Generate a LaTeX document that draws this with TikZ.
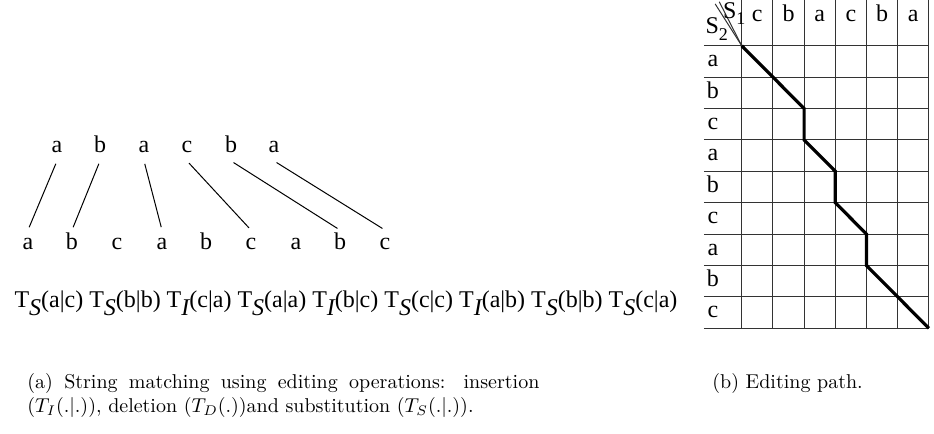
\documentclass[tikz,border=0pt]{standalone}
\usepackage{fontspec}
\newfontfamily\timesfont{Liberation Serif}
\usetikzlibrary{
  calc,
  positioning
}
\newcommand{\edop}[3]{T\raisebox{-0.7ex}{\itshape #1}(#2|#3)}
\newcommand{\seqname}[2]{S\raisebox{-0.6ex}{\small #2}}
\tikzset{
  letter/.style={font=\timesfont\fontsize{12}{14}\selectfont, inner sep=3pt,
                 text height=1.5ex, text depth=0.25ex},
  link/.style={line width=0.5pt, shorten <=1.5pt, shorten >=1.5pt},
  gridline/.style={line width=0.5pt, draw=black!80},
  editpath/.style={line width=1.6pt, line join=miter}
}

\begin{document}
\begin{tikzpicture}[x=0.5pt,y=-0.5pt]
  \useasboundingbox (0,0) rectangle (934,434);
  \node[letter] (t1) at (57,147)  {a};
  \node[letter] (t2) at (100,147) {b};
  \node[letter] (t3) at (144,147) {a};
  \node[letter] (t4) at (187,147) {c};
  \node[letter] (t5) at (231,147) {b};
  \node[letter] (t6) at (274,147) {a};
  \node[letter] (b1) at (28,244)  {a};
  \node[letter] (b2) at (72,244)  {b};
  \node[letter] (b3) at (117,244) {c};
  \node[letter] (b4) at (162,244) {a};
  \node[letter] (b5) at (206,244) {b};
  \node[letter] (b6) at (251,244) {c};
  \node[letter] (b7) at (296,244) {a};
  \node[letter] (b8) at (340,244) {b};
  \node[letter] (b9) at (385,244) {c};
  \draw[link] (t1.south) -- (b1.north);
  \draw[link] (t2.south) -- (b2.north);
  \draw[link] (t3.south) -- (b4.north);
  \draw[link] (t4.south) -- (b6.north);
  \draw[link] (t5.south) -- (b8.north);
  \draw[link] (t6.south) -- (b9.north);
  \node[letter, inner sep=0pt] (ops) at (346,302)
    {\edop{S}{a}{c} \edop{S}{b}{b} \edop{I}{c}{a} \edop{S}{a}{a} \edop{I}{b}{c}
     \edop{S}{c}{c} \edop{I}{a}{b} \edop{S}{b}{b} \edop{S}{c}{a}};

  \begin{scope}[shift={(741.7,45.7)}, x=15.6pt, y=-15.7pt]
    \foreach \i in {0,...,6}
      \draw[gridline] (\i,-1.455) -- (\i,9);
    \foreach \j in {0,...,9}
      \draw[gridline] (-1.21,\j) -- (6,\j);
    \draw[gridline] (-0.85,-1.33) -- (0,0);
    \draw[gridline] (-0.72,-1.40) -- (0,0);
    \node[letter, inner sep=0pt] (s1) at (-0.24,-1.05) {\seqname{S}{1}};
    \node[letter, inner sep=0pt] (s2) at (-0.8,-0.55) {\seqname{S}{2}};
    \node[letter] (h1) at (0.5,-0.95) {c};
    \node[letter] (h2) at (1.5,-0.95) {b};
    \node[letter] (h3) at (2.5,-0.95) {a};
    \node[letter] (h4) at (3.5,-0.95) {c};
    \node[letter] (h5) at (4.5,-0.95) {b};
    \node[letter] (h6) at (5.5,-0.95) {a};
    \node[letter] (r1) at (-0.92,0.5) {a};
    \node[letter] (r2) at (-0.92,1.5) {b};
    \node[letter] (r3) at (-0.92,2.5) {c};
    \node[letter] (r4) at (-0.92,3.5) {a};
    \node[letter] (r5) at (-0.92,4.5) {b};
    \node[letter] (r6) at (-0.92,5.5) {c};
    \node[letter] (r7) at (-0.92,6.5) {a};
    \node[letter] (r8) at (-0.92,7.5) {b};
    \node[letter] (r9) at (-0.92,8.5) {c};
    \draw[editpath] (0,0) -- (2,2) -- (2,3) -- (3,4) -- (3,5) -- (4,6)
                    -- (4,7) -- (6,9);
  \end{scope}

  \node[anchor=north west, text width=256pt, align=justify, inner sep=0pt,
        font=\fontsize{10}{12}\selectfont] (capa) at (27,373)
    {(a) String matching using editing operations: insertion
     ($T_I(.|.)$), deletion ($T_D(.)$)and substitution ($T_S(.|.)$).};
  \node[anchor=north west, inner sep=0pt, font=\fontsize{10}{12}\selectfont]
    (capb) at (712,373) {(b) Editing path.};
\end{tikzpicture}
\end{document}
